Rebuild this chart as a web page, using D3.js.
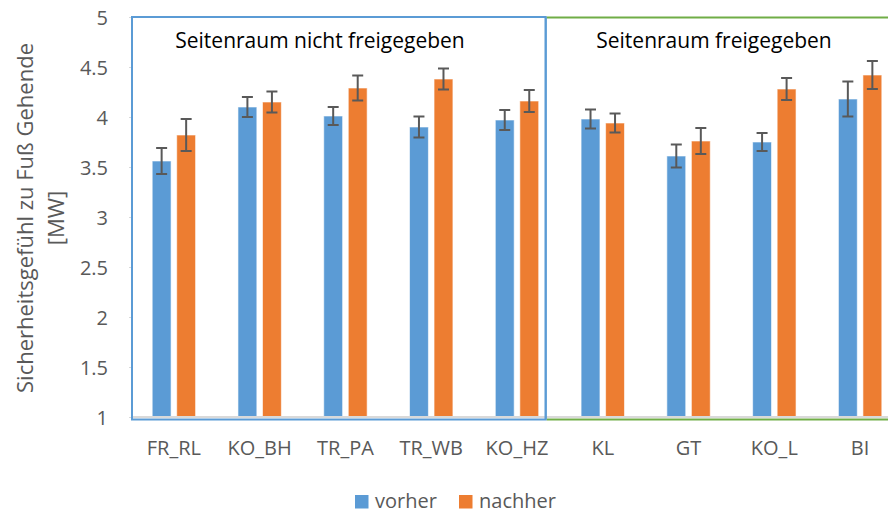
<!DOCTYPE html>
<html>
<head>
<meta charset="utf-8">
<script src="https://cdn.jsdelivr.net/npm/d3@7"></script>
<style>
  body { margin: 0; background: #fff; }
  text { font-family: "Open Sans", sans-serif; }
</style>
</head>
<body>
<div id="chart"></div>
<script>
// Data
let categories = ["FR_RL", "KO_BH", "TR_PA", "TR_WB", "KO_HZ", "KL", "GT", "KO_L", "BI"];
let seriesNames = ["vorher", "nachher"];
let vorher = [3.56, 4.10, 4.01, 3.90, 3.97, 3.98, 3.61, 3.75, 4.18];
let nachher = [3.82, 4.15, 4.29, 4.38, 4.16, 3.94, 3.76, 4.28, 4.42];
let vorherErr = [0.13, 0.10, 0.09, 0.105, 0.10, 0.095, 0.115, 0.09, 0.175];
let nachherErr = [0.16, 0.105, 0.125, 0.105, 0.11, 0.095, 0.13, 0.11, 0.14];
let yTicks = [1, 1.5, 2, 2.5, 3, 3.5, 4, 4.5, 5];
let colors = { vorher: "#5B9BD5", nachher: "#ED7D31" };

let svgWidth = 888;
let svgHeight = 513;

let svg = d3.select("#chart")
  .append("svg")
  .attr("width", svgWidth)
  .attr("height", svgHeight);

// plot runs past the right edge of the picture, like the reference
let x0 = d3.scaleBand()
  .domain(categories)
  .range([131, 903])
  .paddingInner(0.494)
  .paddingOuter(0.247);

let x1 = d3.scaleBand()
  .domain(seriesNames)
  .range([0, x0.bandwidth()])
  .paddingInner(0.23);

let y = d3.scaleLinear()
  .domain([1, 5])
  .range([417, 17]);

// y axis (ticks and labels, no line)
let yAxis = svg.append("g")
  .attr("transform", "translate(133,0)")
  .call(d3.axisLeft(y).tickValues(yTicks).tickSize(4).tickPadding(21).tickFormat(d3.format("")));
yAxis.select(".domain").remove();
yAxis.selectAll(".tick line").attr("stroke", "#D9D9D9");
yAxis.selectAll(".tick text")
  .attr("fill", "#595959")
  .style("font-size", "20px")
  .attr("dy", "0.36em");

// bars
let rows = categories.map((c, i) => ({
  cat: c,
  vals: [
    { key: "vorher", v: vorher[i], e: vorherErr[i] },
    { key: "nachher", v: nachher[i], e: nachherErr[i] }
  ]
}));

let groups = svg.selectAll(".grp")
  .data(rows)
  .enter()
  .append("g")
  .attr("transform", d => `translate(${x0(d.cat)},0)`);

groups.selectAll("rect")
  .data(d => d.vals)
  .enter()
  .append("rect")
  .attr("x", d => x1(d.key))
  .attr("y", d => y(d.v))
  .attr("width", x1.bandwidth())
  .attr("height", d => y(1) - y(d.v))
  .attr("fill", d => colors[d.key])
  .attr("stroke", "#fff")
  .attr("stroke-opacity", 0.6)
  .attr("stroke-width", 1);

// error bars
let errs = groups.selectAll(".err")
  .data(d => d.vals)
  .enter()
  .append("g")
  .attr("stroke", "#595959")
  .attr("stroke-width", 2);

errs.append("line")
  .attr("x1", d => x1(d.key) + x1.bandwidth() / 2)
  .attr("x2", d => x1(d.key) + x1.bandwidth() / 2)
  .attr("y1", d => y(d.v + d.e))
  .attr("y2", d => y(d.v - d.e));
errs.append("line")
  .attr("x1", d => x1(d.key) + x1.bandwidth() / 2 - 5.5)
  .attr("x2", d => x1(d.key) + x1.bandwidth() / 2 + 5.5)
  .attr("y1", d => y(d.v + d.e))
  .attr("y2", d => y(d.v + d.e));
errs.append("line")
  .attr("x1", d => x1(d.key) + x1.bandwidth() / 2 - 5.5)
  .attr("x2", d => x1(d.key) + x1.bandwidth() / 2 + 5.5)
  .attr("y1", d => y(d.v - d.e))
  .attr("y2", d => y(d.v - d.e));

// x axis line
svg.append("line")
  .attr("x1", 131).attr("x2", svgWidth)
  .attr("y1", y(1)).attr("y2", y(1))
  .attr("stroke", "#D9D9D9")
  .attr("stroke-width", 2);

// x labels
svg.append("g").selectAll("text")
  .data(categories)
  .enter()
  .append("text")
  .attr("x", d => x0(d) + x0.bandwidth() / 2)
  .attr("y", 455)
  .attr("text-anchor", "middle")
  .attr("fill", "#595959")
  .style("font-size", "20px")
  .text(d => d);

// annotation boxes
let splitX = x0("KO_HZ") + x0.bandwidth() + 7;
svg.append("rect")
  .attr("x", 132).attr("y", 17)
  .attr("width", splitX - 132).attr("height", 419.5 - 17)
  .attr("fill", "none")
  .attr("stroke", "#5B9BD5")
  .attr("stroke-width", 2);
svg.append("path")
  .attr("d", `M${svgWidth + 5},17.5 H${splitX + 1} M${splitX + 1},419.5 H${svgWidth + 5}`)
  .attr("fill", "none")
  .attr("stroke", "#70AD47")
  .attr("stroke-width", 2.2);
// redraw blue right edge over green
svg.append("line")
  .attr("x1", splitX).attr("x2", splitX)
  .attr("y1", 17).attr("y2", 419.5)
  .attr("stroke", "#5B9BD5")
  .attr("stroke-width", 2);

svg.append("text")
  .attr("x", 320).attr("y", 48)
  .attr("text-anchor", "middle")
  .attr("fill", "#000")
  .style("font-size", "21px")
  .text("Seitenraum nicht freigegeben");

svg.append("text")
  .attr("x", 714).attr("y", 48)
  .attr("text-anchor", "middle")
  .attr("fill", "#000")
  .style("font-size", "21px")
  .text("Seitenraum freigegeben");

// y title
let yTitle = svg.append("text")
  .attr("transform", "translate(33,218) rotate(-90)")
  .attr("text-anchor", "middle")
  .attr("fill", "#595959")
  .style("font-size", "22px");
yTitle.append("tspan").attr("x", 0).attr("y", 0).text("Sicherheitsgefühl zu Fuß Gehende");
yTitle.append("tspan").attr("x", 0).attr("y", 31).text("[MW]");

// legend
let legend = svg.append("g");
let legendX = [355, 459];
seriesNames.forEach((s, i) => {
  legend.append("rect")
    .attr("x", legendX[i]).attr("y", 495)
    .attr("width", 13.5).attr("height", 13.5)
    .attr("fill", colors[s]);
  legend.append("text")
    .attr("x", legendX[i] + 20).attr("y", 508)
    .attr("fill", "#595959")
    .style("font-size", "20px")
    .text(s);
});
</script>
</body>
</html>
